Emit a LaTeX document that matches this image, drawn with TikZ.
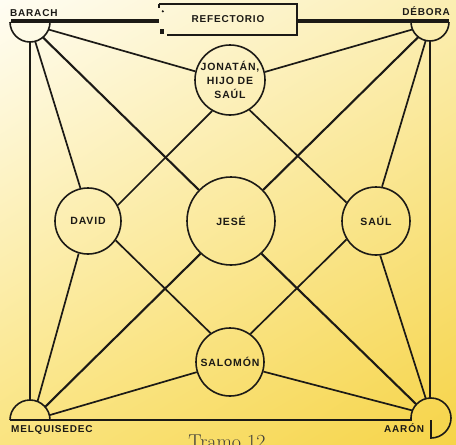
\documentclass[tikz,border=0pt]{standalone}
\usepackage{fontspec}
\usetikzlibrary{shadings}
\newfontfamily\labfont[LetterSpace=8]{Liberation Sans}
\definecolor{inkc}{RGB}{28,26,22}
\definecolor{bgA}{RGB}{255,253,243}
\definecolor{bgB}{RGB}{251,238,178}
\definecolor{bgC}{RGB}{250,228,128}
\definecolor{bgD}{RGB}{246,212,72}
\begin{document}
\begin{tikzpicture}[x=1pt,y=-1pt,
  place/.style={circle, draw=inkc, line width=1.6pt, inner sep=0pt, align=center,
    font=\labfont\bfseries\fontsize{10.5}{14}\selectfont, text=inkc},
  corner/.style={circle, inner sep=0pt},
  conn/.style={draw=inkc, line width=1.7pt},
  diag/.style={draw=inkc, line width=2.1pt},
  frame/.style={draw=inkc, line width=1.6pt},
  bar/.style={draw=inkc, line width=4.8pt},
  lab/.style={font=\labfont\bfseries\fontsize{10}{12}\selectfont, text=inkc, inner sep=0pt},
]
% background
\shade[upper left=bgA, upper right=bgB, lower left=bgC, lower right=bgD]
  (0,0) rectangle (456,445);
\useasboundingbox (0,0) rectangle (456,445);

% circles
\node[place, minimum size=70pt] (jon) at (230,80) {JONATÁN,\\HIJO DE\\SAÚL};
\node[place, minimum size=88pt] (jese) at (231,221) {JESÉ};
\node[place, minimum size=66pt] (david) at (88,221) {DAVID};
\node[place, minimum size=68pt] (saul) at (376,221) {SAÚL};
\node[place, minimum size=68pt] (salomon) at (230,362) {SALOMÓN};

% corner anchors
\node[corner, minimum size=40pt] (barach) at (30,22) {};
\node[corner, minimum size=38pt] (debora) at (430,22) {};
\node[corner, minimum size=40pt] (melq) at (30,420) {};
\node[corner, minimum size=40pt] (aaron) at (431,418) {};

% refectorio box
\node[lab, minimum width=138pt, minimum height=31pt] (ref) at (228,19.5) {REFECTORIO};
\draw[frame] (ref.north west) -- ++(0,4);
\draw[frame] (ref.north west) -- (ref.north east) -- (ref.south east) -- ([xshift=8pt]ref.south west);
\fill[inkc] ([xshift=4pt,yshift=-7.5pt]ref.north west) circle (1.2pt);
\fill[inkc] ([xshift=1pt,yshift=1pt]ref.south west) rectangle ([xshift=5pt,yshift=6pt]ref.south west);

% top bars and upper corner semicircles
\draw[bar] (11,21) -- (ref.west |- 0,21);
\draw[bar] (ref.east |- 0,21) -- (449,21);
\draw[frame] (10,22) arc[start angle=180, end angle=0, radius=20];
\draw[frame] (411,22) arc[start angle=180, end angle=0, radius=19];

% bottom line and lower corner shapes
\draw[frame] (10,420) arc[start angle=180, end angle=360, radius=20];
\draw[frame] (10,420) -- (411,420) -- (411,418) arc[start angle=180, end angle=450, radius=20] -- (431,420);

% corner labels
\node[lab, anchor=base west] (lbarach) at (10,16) {BARACH};
\node[lab, anchor=base east] (ldebora) at (450,15) {DÉBORA};
\node[lab, anchor=base west] (lmelq) at (11,432) {MELQUISEDEC};
\node[lab, anchor=base west] (laaron) at (384,432) {AARÓN};

% connectors
\draw[conn] (barach.-22) -- (jon.166);
\draw[diag] (barach.-50) -- (jese.136);
\draw[conn] (barach.-75) -- (david.103);
\draw[conn] (barach.-90) -- (barach.-90 |- melq.north);
\draw[conn] (debora.-157) -- (jon.13);
\draw[diag] (debora.232) -- (jese.44);
\draw[conn] (debora.257) -- (saul.80);
\draw[conn] (debora.270) -- (debora.270 |- aaron.north);
\draw[conn] (jon.240) -- (david.28);
\draw[conn] (jon.303) -- (saul.148);
\draw[conn] (david.-35) -- (salomon.124);
\draw[conn] (saul.212) -- (salomon.54);
\draw[conn] (david.254) -- (melq.68);
\draw[diag] (jese.227) -- (melq.41);
\draw[diag] (jese.313) -- (aaron.137);
\draw[conn] (saul.277) -- (aaron.105);
\draw[conn] (salomon.197) -- (melq.14);
\draw[conn] (salomon.-16) -- (aaron.158);

% caption (cut by the page edge)
\node[anchor=base, inner sep=0pt, text=inkc!85, font=\fontsize{20}{24}\selectfont] (tramo) at (227,448) {Tramo 12};
\end{tikzpicture}
\end{document}
